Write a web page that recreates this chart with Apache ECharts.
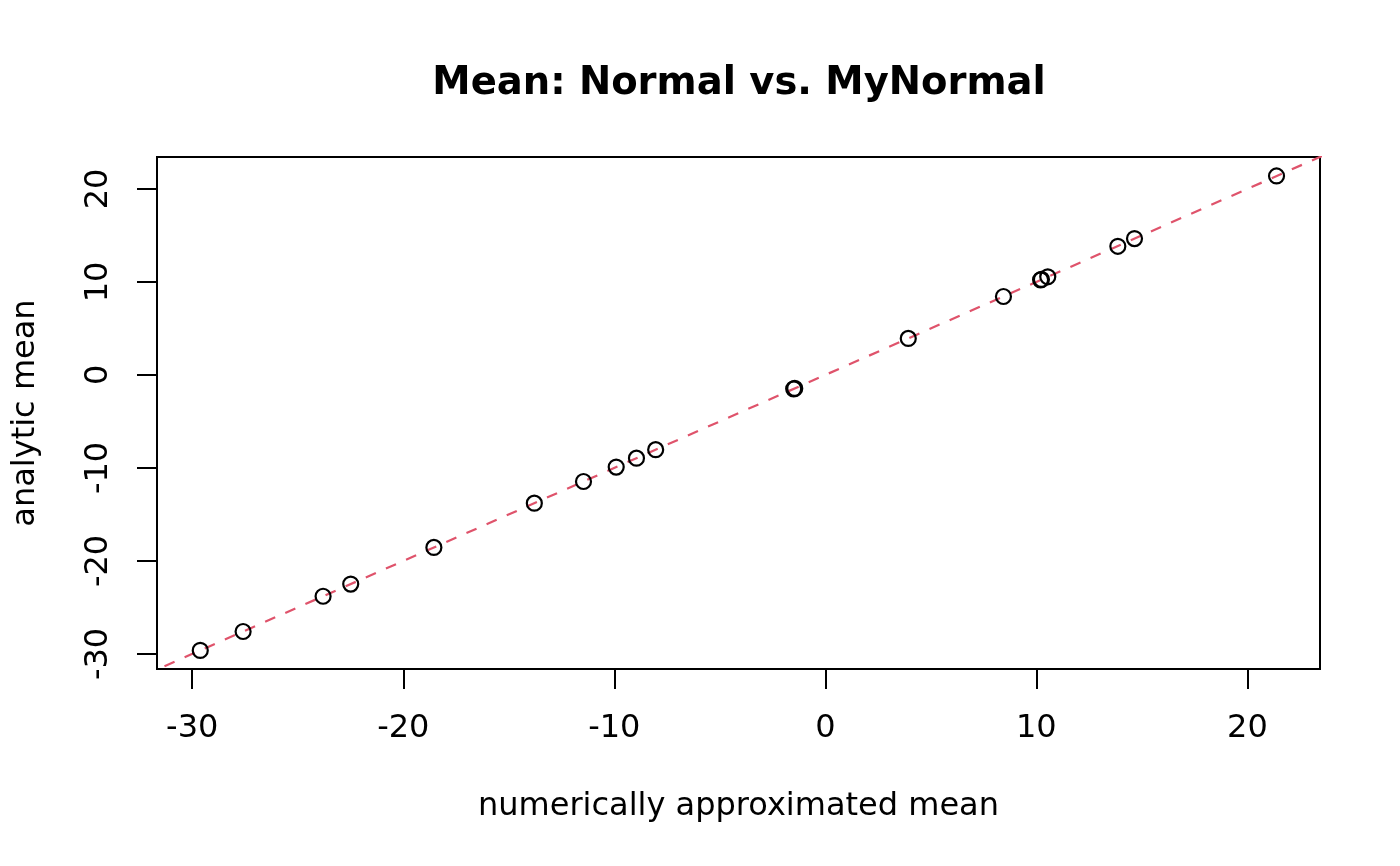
<!DOCTYPE html>
<html>
<head>
<meta charset="utf-8">
<script src="https://cdn.jsdelivr.net/npm/echarts@6/dist/echarts.min.js"></script>
<style>
  html, body { margin: 0; padding: 0; background: #fff; }
  #chart { width: 1400px; height: 866px; }
</style>
</head>
<body>
<div id="chart"></div>
<script>
    // values
    const numericMean = [-29.62, -27.59, -23.80, -22.49, -18.55, -13.79, -11.46, -9.91, -8.95, -8.04,
        -1.45, -1.50, 3.93, 8.44, 10.20, 10.24, 10.54, 13.86, 14.65, 21.38]
    const analyticMean = [-29.62, -27.59, -23.80, -22.49, -18.55, -13.79, -11.46, -9.91, -8.95, -8.04,
        -1.45, -1.50, 3.92, 8.43, 10.22, 10.27, 10.55, 13.83, 14.66, 21.39]
    const xTicks = [-30, -20, -10, 0, 10, 20]
    const yTicks = [-30, -20, -10, 0, 10, 20]
    // abline(0, 1)
    const ablineIntercept = 0
    const ablineSlope = 1

    const xMin = -31.67, xMax = 23.44
    const yMin = -31.62, yMax = 23.43

    const font = 'DejaVu Sans'
    const points = numericMean.map((x, i) => [x, analyticMean[i]])
    const lineEnds = [-100, 100].map(x => [x, ablineIntercept + ablineSlope * x])

    const initChart = () => {
        const myChart = echarts.init(document.getElementById('chart'))

        myChart.setOption({
            animation: false,
            backgroundColor: '#fff',
            title: {
                text: 'Mean: Normal vs. MyNormal',
                left: 734,
                top: 59,
                textAlign: 'center',
                textStyle: { fontFamily: font, fontSize: 38.5, fontWeight: 'bold', color: '#000' }
            },
            grid: {
                left: 157, right: 80, top: 157, bottom: 197,
                show: true, borderColor: '#000', borderWidth: 2, backgroundColor: 'transparent'
            },
            xAxis: {
                type: 'value',
                min: xMin, max: xMax,
                name: 'numerically approximated mean',
                nameLocation: 'middle',
                nameGap: 122,
                nameTextStyle: { fontFamily: font, fontSize: 32, color: '#000' },
                axisLine: { show: false, onZero: false },
                axisTick: { show: true, customValues: xTicks, length: 20, inside: false,
                    lineStyle: { color: '#000', width: 2 } },
                axisLabel: { customValues: xTicks, margin: 44, fontFamily: font, fontSize: 32, color: '#000' },
                splitLine: { show: false }
            },
            yAxis: {
                type: 'value',
                min: yMin, max: yMax,
                name: 'analytic mean',
                nameLocation: 'middle',
                nameGap: 115,
                nameTextStyle: { fontFamily: font, fontSize: 32, color: '#000' },
                axisLine: { show: false, onZero: false },
                axisTick: { show: true, customValues: yTicks, length: 20, inside: false,
                    lineStyle: { color: '#000', width: 2 } },
                axisLabel: { customValues: yTicks, rotate: 90, margin: 42, fontFamily: font, fontSize: 32, color: '#000' },
                splitLine: { show: false }
            },
            series: [
                {
                    type: 'line',
                    data: lineEnds,
                    symbol: 'none',
                    clip: true,
                    silent: true,
                    lineStyle: { color: '#DF536B', width: 2.2, type: [11, 11] },
                    z: 1
                },
                {
                    type: 'scatter',
                    data: points,
                    symbol: 'circle',
                    symbolSize: 15,
                    itemStyle: { color: 'rgba(0,0,0,0)', borderColor: '#000', borderWidth: 2.2, opacity: 1 },
                    z: 2
                }
            ]
        })
    }

    window.addEventListener('load', () => {
        initChart()
    })
</script>
</body>
</html>
